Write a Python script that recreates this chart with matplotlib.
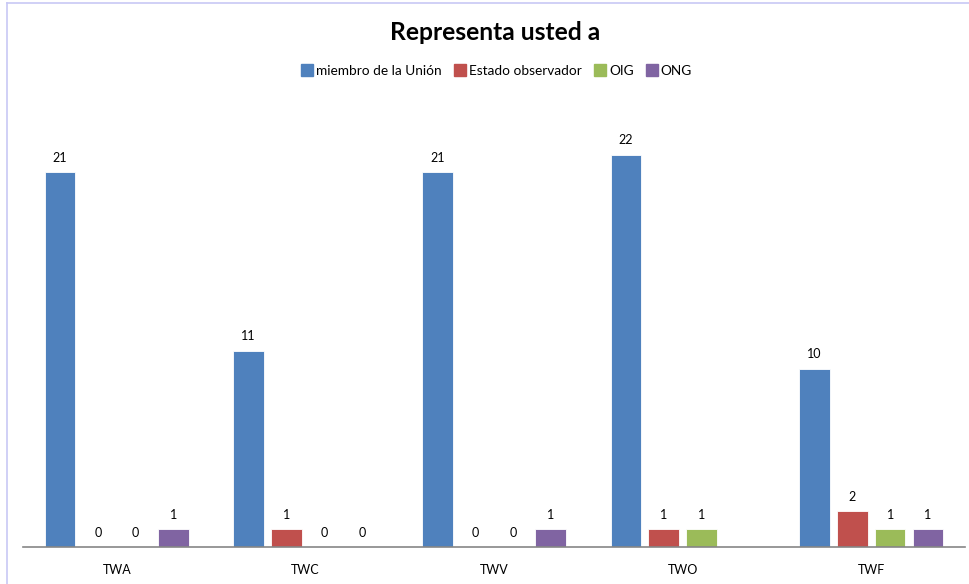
import numpy as np
import matplotlib
matplotlib.use("Agg")
import matplotlib.pyplot as plt
from matplotlib.lines import Line2D

categories = ["TWA", "TWC", "TWV", "TWO", "TWF"]
series_names = ["miembro de la Unión", "Estado observador", "OIG", "ONG"]
miembro = [21, 11, 21, 22, 10]
estado = [0, 1, 0, 1, 2]
oig = [0, 0, 0, 1, 1]
ong = [1, 0, 1, np.nan, 1]
colors = ["#4F81BD", "#C0504D", "#9BBB59", "#8064A2"]

series = [miembro, estado, oig, ong]

plt.rcParams["font.family"] = ["Lato", "DejaVu Sans"]

fig = plt.figure(figsize=(9.7, 5.84), dpi=100)
ax = fig.add_axes([22.5 / 970, 37 / 584, 943 / 970, 446 / 584])

x = np.arange(len(categories))
step = 0.2004
width = 0.162
offsets = (np.arange(len(series)) - 1.5) * step

for vals, off, col in zip(series, offsets, colors):
    vals = np.array(vals, dtype=float)
    for xi, v in zip(x, vals):
        if np.isnan(v):
            continue
        ax.bar(xi + off, v, width=width, color=col, edgecolor="white",
               linewidth=0.6)
        ax.annotate(f"{int(v)}", (xi + off, v), xytext=(0, 6),
                    textcoords="offset points", ha="center", va="bottom",
                    fontsize=9, color="#000000")

ax.set_xlim(-0.5, len(categories) - 0.5)
ax.set_ylim(0, 25)
ax.set_xticks(x)
ax.set_xticklabels(categories, fontsize=9)
ax.tick_params(axis="x", length=0, pad=12)
ax.set_yticks([])
for s in ["top", "right", "left"]:
    ax.spines[s].set_visible(False)
ax.spines["bottom"].set_color("#868686")
ax.spines["bottom"].set_linewidth(1.2)

fig.text(495 / 970, 1 - 32 / 584, "Representa usted a", ha="center",
         va="center", fontsize=17.7, fontweight="bold")

handles = [Line2D([], [], marker="s", linestyle="none", markersize=8,
                  markerfacecolor=c, markeredgecolor=c) for c in colors]
fig.legend(handles, series_names, loc="center", ncol=4,
           bbox_to_anchor=(497 / 970, 1 - 71 / 584), frameon=False,
           fontsize=9.8, handletextpad=0.25, columnspacing=0.95,
           handlelength=0.8)

# chart frame (top and left edges)
fig.add_artist(Line2D([7 / 970, 7 / 970], [0, 1 - 3 / 584],
                      transform=fig.transFigure, color="#C8C8F5", lw=1.2))
fig.add_artist(Line2D([7 / 970, 1], [1 - 3 / 584, 1 - 3 / 584],
                      transform=fig.transFigure, color="#C8C8F5", lw=1.2))

fig.savefig("out.png", dpi=100, facecolor="white")
